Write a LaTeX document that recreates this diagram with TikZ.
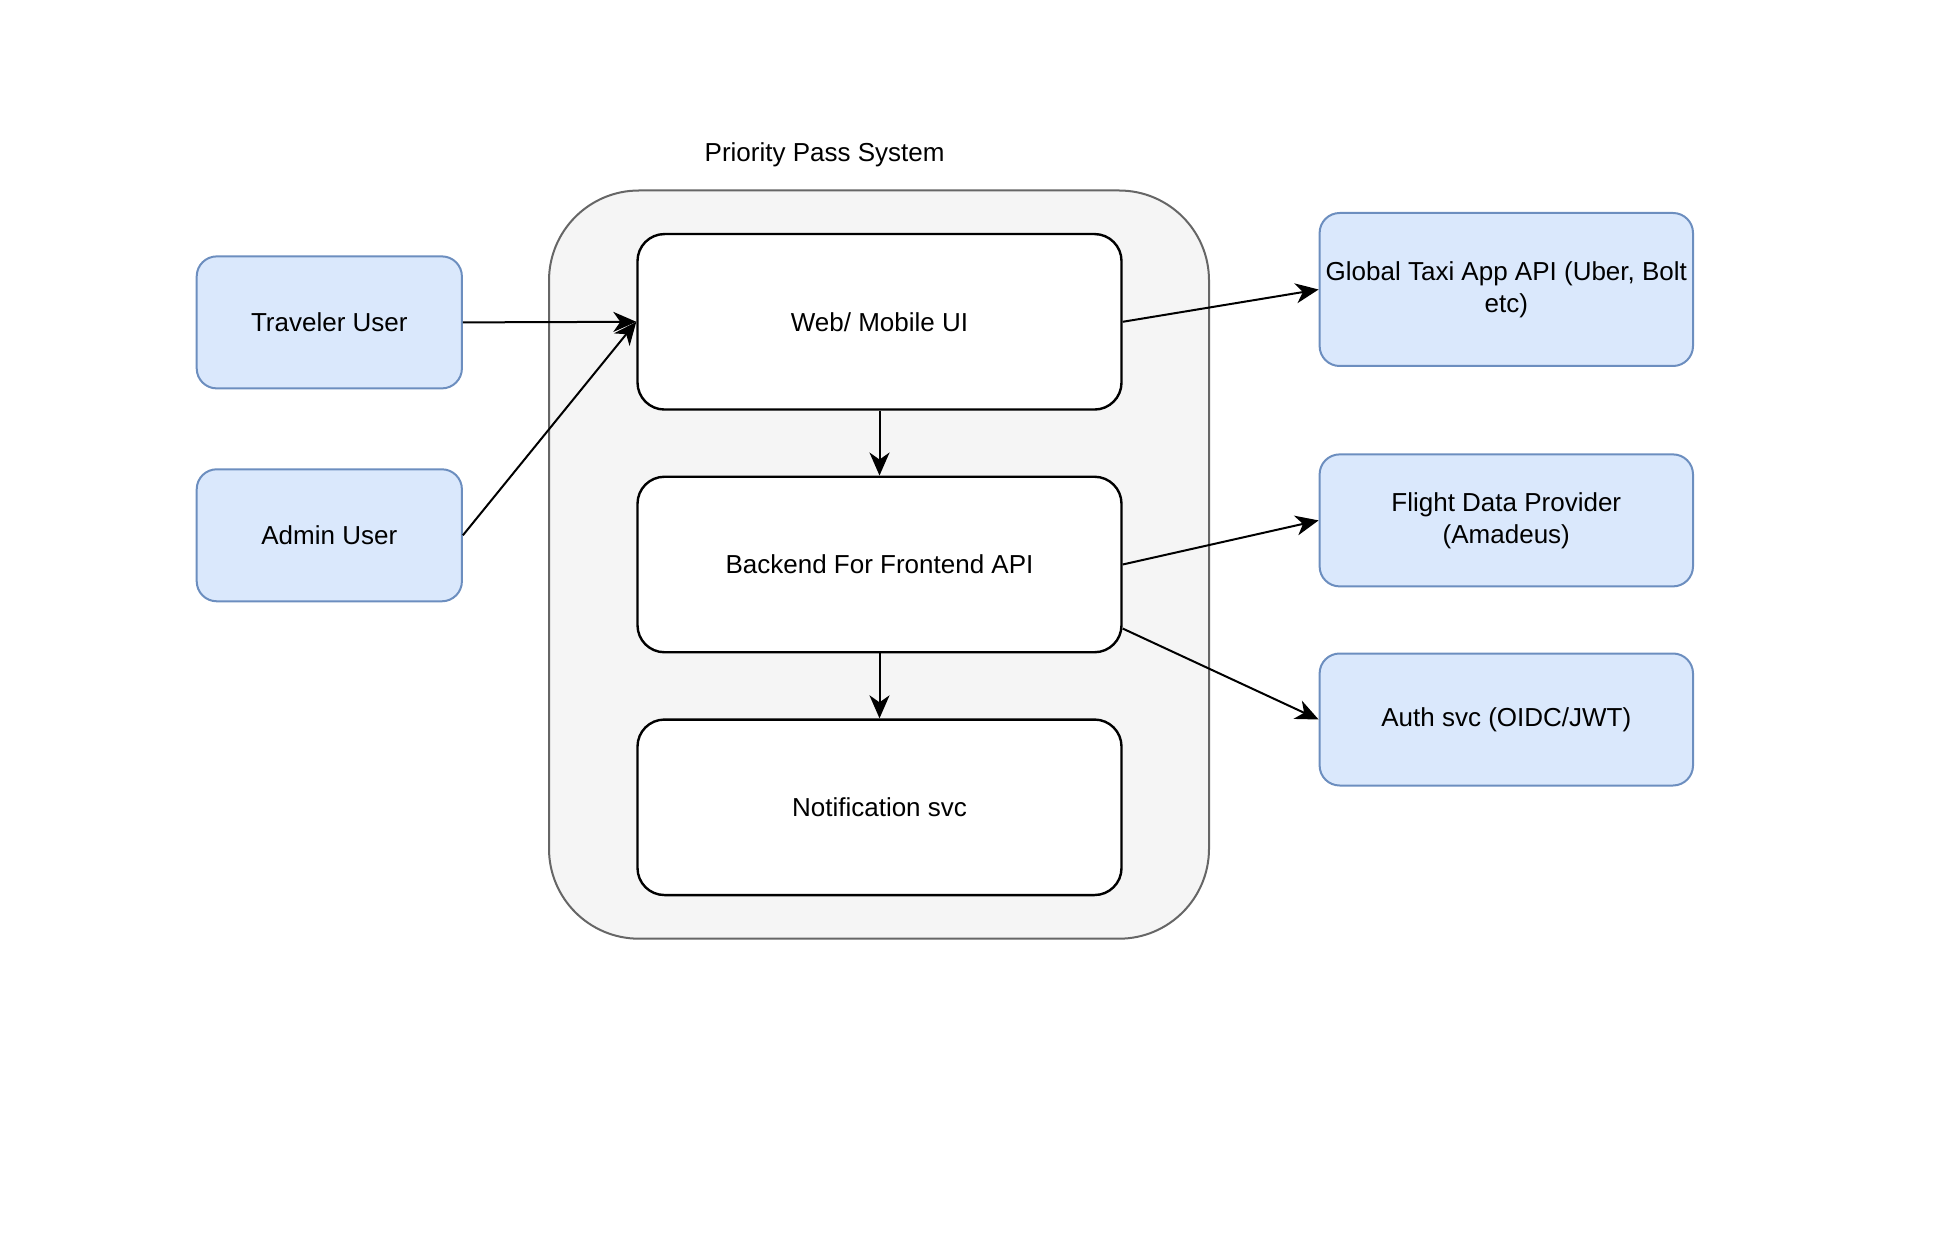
\documentclass[tikz,border=0pt]{standalone}
\usepackage{fontspec}
\setmainfont{Liberation Sans}
\usetikzlibrary{arrows.meta,calc}
\definecolor{bluefill}{HTML}{DAE8FC}
\definecolor{blueline}{HTML}{6C8EBF}
\definecolor{groupfill}{HTML}{F5F5F5}
\definecolor{groupline}{HTML}{666666}
\begin{document}
\begin{tikzpicture}[x=0.5pt,y=-0.5pt,
  every node/.style={font=\fontsize{13pt}{16pt}\selectfont, align=center, inner sep=0pt},
  group/.style={draw=groupline, fill=groupfill, line width=1pt, rounded corners=45pt},
  svc/.style={draw=black, fill=white, line width=1.2pt, rounded corners=13.5pt,
              minimum width=242pt, minimum height=87.75pt},
  ext/.style={draw=blueline, fill=bluefill, line width=1pt, rounded corners=10pt},
  flow/.style={draw=black, line width=1pt, -{Stealth[length=11.5pt,width=10pt,inset=3.5pt]}}
]
\useasboundingbox (0,0) rectangle (1952,1234);

% system boundary
\node[group, minimum width=330pt, minimum height=374.1pt] (sys) at (879,564.6) {};
\node (title) at (824.6,155) {Priority Pass System};

% internal services
\node[svc] (ui)    at (879.5,321.8) {\raisebox{-1pt}{Web/ Mobile UI}};
\node[svc] (bff)   at (879.5,564.5) {\raisebox{-1pt}{Backend For Frontend API}};
\node[svc] (notif) at (879.5,807.3) {\raisebox{-1pt}{Notification svc}};

% users
\node[ext, minimum width=132.6pt, minimum height=66pt] (trav)  at (329.3,322.4) {Traveler User};
\node[ext, minimum width=132.6pt, minimum height=66pt] (admin) at (329.3,535.3) {Admin User};

% external systems
\node[ext, minimum width=186.7pt, minimum height=76.5pt] (taxi)   at (1506.3,289.5) {Global Taxi App API (Uber, Bolt\\etc)};
\node[ext, minimum width=186.7pt, minimum height=66pt]   (flight) at (1506.3,520.4) {Flight Data Provider\\(Amadeus)};
\node[ext, minimum width=186.7pt, minimum height=66pt]   (auth)   at (1506.3,719.5) {Auth svc (OIDC/JWT)};

% connectors
\draw[flow] (trav.east) -- (ui.west);
\draw[flow] (admin.east) -- (ui.west);
\draw[flow] (ui.east) -- (taxi.west);
\draw[flow] (ui.south) -- (bff.north);
\draw[flow] (bff.east) -- (flight.west);
\draw[flow] ($(bff.north east)!0.86!(bff.south east)$) -- (auth.west);
\draw[flow] (bff.south) -- (notif.north);
\end{tikzpicture}
\end{document}
